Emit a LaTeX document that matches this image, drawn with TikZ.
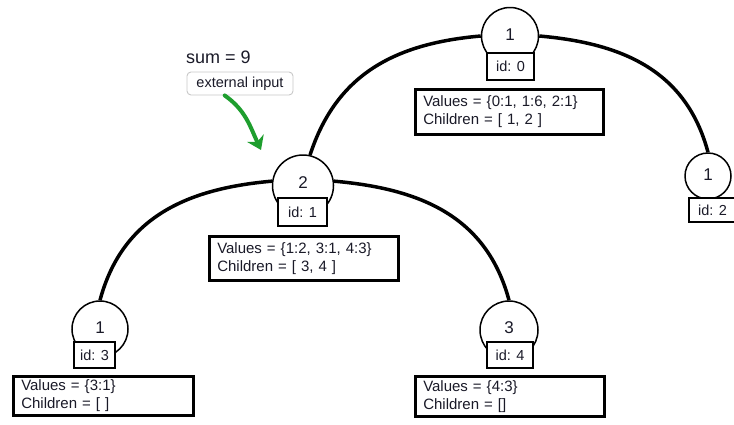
\documentclass[tikz,border=0pt]{standalone}
\usepackage{fontspec}
\setmainfont{Liberation Sans}
\usetikzlibrary{arrows.meta,calc}
\definecolor{ink}{HTML}{1A1A28}
\definecolor{arrowgreen}{HTML}{1E9E2E}
\definecolor{tagborder}{HTML}{C8C8C8}
\newcommand\setsize[2]{\fontsize{#1}{#2}\selectfont}
\tikzset{
  treenode/.style={circle, draw=black, line width=1.5, fill=white, inner sep=0,
    text=ink, font=\setsize{17}{20}},
  idbox/.style={draw=black, line width=2, fill=white, inner sep=0,
    text=ink, font=\setsize{14.5}{17}},
  valbox/.style={draw=black, line width=2.5, fill=white, inner xsep=8, inner ysep=0,
    anchor=north west, align=left, text=ink, font=\setsize{15}{18}},
  branch/.style={line width=3.5, draw=black},
  tag/.style={draw=tagborder, line width=0.9, rounded corners=4, fill=white,
    inner sep=0, text=ink, font=\setsize{14.5}{16}},
}
\begin{document}
\begin{tikzpicture}[x=1pt, y=-1pt]
  \useasboundingbox (0,0) rectangle (734,424);
  \clip (0,0) rectangle (734,424);

  % tree nodes (value in the circle)
  \node[treenode, minimum size=57] (n0) at (510,36)    {\raisebox{2pt}{1}};
  \node[treenode, minimum size=61] (n1) at (303,185.5) {\raisebox{6pt}{2}};
  \node[treenode, minimum size=46] (n2) at (708,176)   {\raisebox{2pt}{1}};
  \node[treenode, minimum size=56] (n3) at (100,329)   {\raisebox{3pt}{1}};
  \node[treenode, minimum size=58] (n4) at (509,330)   {\raisebox{4pt}{3}};

  % branches
  \draw[branch] (n0.west) to[out=185, in=72, looseness=1.05] (n1.77);
  \draw[branch] (n0.east) to[out=-5, in=105, looseness=1.05] (n2.north);
  \draw[branch] (n1.172) to[out=185, in=75, looseness=1.05] (n3.north);
  \draw[branch] (n1.8) to[out=-5, in=105, looseness=1.05] (n4.north);

  % id tags under the circles
  \node[idbox, minimum width=47, minimum height=27] (i0) at (510.5,66.5) {id: 0};
  \node[idbox, minimum width=49, minimum height=28] (i1) at (302.5,212)  {id: 1};
  \node[idbox, minimum width=47, minimum height=24] (i2) at (712.5,210)  {id: 2};
  \node[idbox, minimum width=41, minimum height=26] (i3) at (94.5,355)   {id: 3};
  \node[idbox, minimum width=46, minimum height=26] (i4) at (510,355)    {id: 4};

  % node contents
  \node[valbox, text width=172, minimum height=45] (v0) at (414,88)
    {Values = \{0:1, 1:6, 2:1\}\\Children = [ 1, 2 ]};
  \node[valbox, text width=173, minimum height=44] (v1) at (208,235)
    {Values = \{1:2, 3:1, 4:3\}\\Children = [ 3, 4 ]};
  \node[valbox, text width=164, minimum height=39] (v3) at (12,375)
    {Values = \{3:1\}\\Children = [ ]};
  \node[valbox, text width=173, minimum height=40] (v4) at (414,375)
    {Values = \{4:3\}\\Children = []};

  % external input annotation
  \node[anchor=base west, inner sep=0, text=ink, font=\setsize{18}{20}] (sum) at (186,63) {sum = 9};
  \node[tag, minimum width=106, minimum height=23] (ext) at (240,83.5) {external input};
  \coordinate (drop) at (261,150);
  \draw[arrowgreen, line width=4, line cap=round,
        -{Stealth[length=13pt, width=18pt, inset=4pt]}]
    (ext.218) to[out=-35, in=115] (drop);
\end{tikzpicture}
\end{document}
